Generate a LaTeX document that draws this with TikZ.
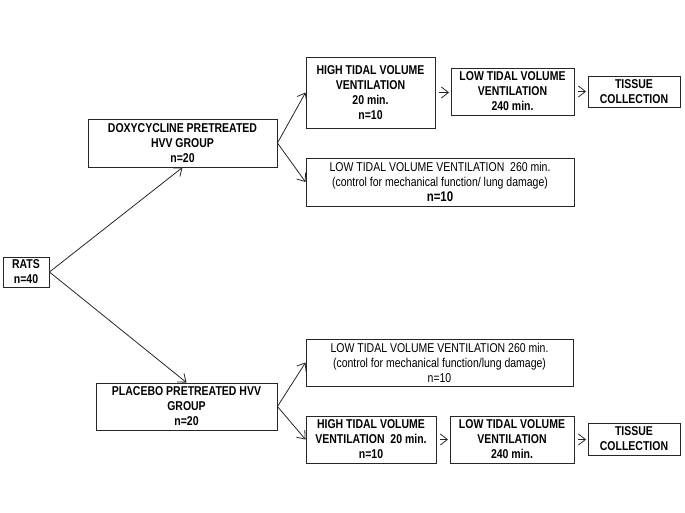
\documentclass[tikz,border=0pt]{standalone}
\usepackage{fontspec}
\setmainfont[FakeStretch=0.82]{Liberation Sans}
\usetikzlibrary{arrows.meta}
\tikzset{
	grpbox/.style={draw=black!85, line width=0.9pt, align=center, inner sep=1pt, font=\fontsize{12.8}{15}\selectfont\bfseries},
	ctlbox/.style={grpbox, font=\fontsize{12.8}{15}\selectfont\mdseries},
	flow/.style={draw=black!85, line width=0.8pt, -{Straight Barb[length=7pt,width=11pt]}}
}

\begin{document}
\begin{tikzpicture}[x=1pt,y=-1pt]
	\useasboundingbox (0,0) rectangle (685,512);
	\node[grpbox, minimum width=46pt, minimum height=30pt] (rats) at (26,272) {RATS\\n=40};
	\node[grpbox, minimum width=189pt, minimum height=48pt] (doxy) at (182.5,143) {DOXYCYCLINE PRETREATED\\HVV GROUP\\n=20};
	\node[grpbox, minimum width=181pt, minimum height=47pt] (plac) at (186.5,406.5) {PLACEBO PRETREATED HVV\\GROUP\\n=20};
	\node[grpbox, minimum width=129pt, minimum height=71pt] (hvvA) at (370.5,92.5) {HIGH TIDAL VOLUME\\VENTILATION\\20 min.\\n=10};
	\node[grpbox, minimum width=123pt, minimum height=47pt] (lvvA) at (512.5,91.5) {LOW TIDAL VOLUME\\VENTILATION\\240 min.};
	\node[grpbox, minimum width=92pt, minimum height=31pt] (tisA) at (634,91.5) {TISSUE\\COLLECTION};
	\node[ctlbox, minimum width=268pt, minimum height=48pt] (ctlA) at (440,182) {LOW TIDAL VOLUME VENTILATION\ \ 260 min.\\(control for mechanical function/ lung damage)\\{\fontsize{14}{15}\selectfont\bfseries n=10}};
	\node[ctlbox, minimum width=267pt, minimum height=47pt] (ctlB) at (439.5,362.5) {LOW TIDAL VOLUME VENTILATION 260 min.\\(control for mechanical function/lung damage)\\n=10};
	\node[grpbox, minimum width=130pt, minimum height=47pt] (hvvB) at (371,439.5) {HIGH TIDAL VOLUME\\VENTILATION\ \ 20 min.\\n=10};
	\node[grpbox, minimum width=124pt, minimum height=47pt] (lvvB) at (512,439.5) {LOW TIDAL VOLUME\\VENTILATION\\240 min.};
	\node[grpbox, minimum width=92pt, minimum height=32pt] (tisB) at (634,439) {TISSUE\\COLLECTION};
	\draw[flow] (rats.east) -- (doxy.south);
	\draw[flow] (rats.east) -- (plac.north);
	\draw[flow] (doxy.east) -- (hvvA.west);
	\draw[flow] (doxy.east) -- (ctlA.west);
	\draw[flow] (plac.east) -- (ctlB.west);
	\draw[flow] (plac.east) -- (hvvB.west);
	\foreach \a/\b in {hvvA/lvvA, lvvA/tisA, hvvB/lvvB, lvvB/tisB} {
		\draw[flow, shorten <=4pt, shorten >=1.5pt] (\a.east) -- (\a.east -| \b.west);
	}
\end{tikzpicture}
\end{document}
